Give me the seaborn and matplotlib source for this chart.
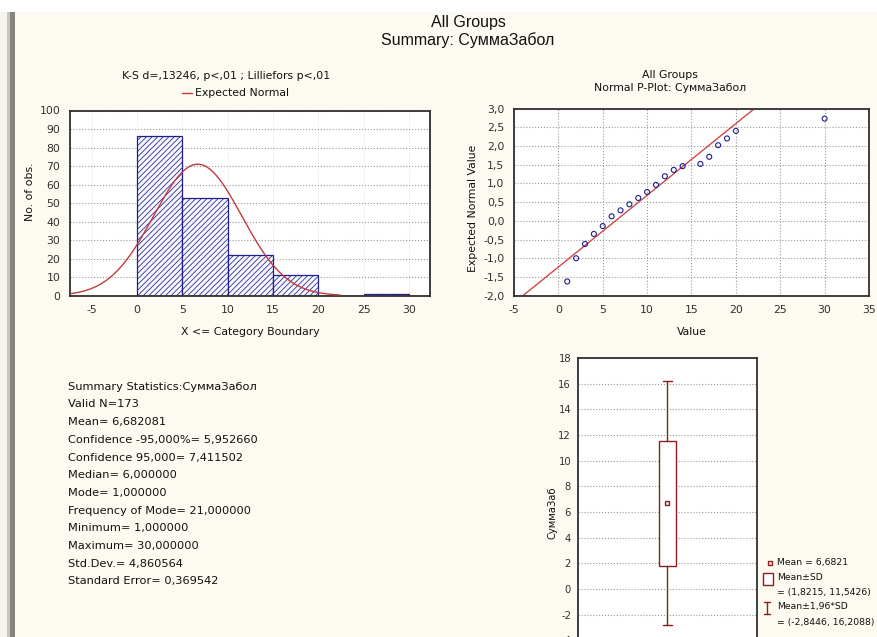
import numpy as np
import matplotlib
matplotlib.use("Agg")
import matplotlib.pyplot as plt
import seaborn as sns
from matplotlib.patches import Rectangle
from matplotlib.lines import Line2D

# ---------------- data ----------------
bin_edges = [0, 5, 10, 15, 20, 25, 30]
bin_counts = [86, 53, 22, 11, 0, 1]
n_valid = 173
mean_val = 6.682081
sd_val = 4.860564
hist_xticks = [-5, 0, 5, 10, 15, 20, 25, 30]
hist_yticks = [0, 10, 20, 30, 40, 50, 60, 70, 80, 90, 100]

pp_values = [1, 2, 3, 4, 5, 6, 7, 8, 9, 10, 11, 12, 13, 14, 16, 17, 18, 19, 20, 30]
pp_expected = [-1.62, -1.00, -0.62, -0.35, -0.14, 0.12, 0.28, 0.44, 0.61, 0.77,
               0.96, 1.19, 1.36, 1.46, 1.52, 1.71, 2.02, 2.20, 2.40, 2.73]
pp_line_x = [-4.0, 22.1]
pp_line_y = [-2.0, 3.0]
pp_xticks = [-5, 0, 5, 10, 15, 20, 25, 30, 35]
pp_yticks = [-2.0, -1.5, -1.0, -0.5, 0.0, 0.5, 1.0, 1.5, 2.0, 2.5, 3.0]
pp_yticklabels = ["-2,0", "-1,5", "-1,0", "-0,5", "0,0", "0,5", "1,0", "1,5", "2,0", "2,5", "3,0"]

box_mean = 6.6821
box_sd_low, box_sd_high = 1.8215, 11.5426
box_ci_low, box_ci_high = -2.8446, 16.2088
box_yticks = [-4, -2, 0, 2, 4, 6, 8, 10, 12, 14, 16, 18]

stats_lines = [
    "Summary Statistics:СуммаЗабол",
    "Valid N=173",
    "Mean= 6,682081",
    "Confidence -95,000%= 5,952660",
    "Confidence 95,000= 7,411502",
    "Median= 6,000000",
    "Mode= 1,000000",
    "Frequency of Mode= 21,000000",
    "Minimum= 1,000000",
    "Maximum= 30,000000",
    "Std.Dev.= 4,860564",
    "Standard Error= 0,369542",
]

# ---------------- style ----------------
sns.set_style("white")
plt.rcParams["font.family"] = ["DejaVu Sans"]
plt.rcParams["hatch.linewidth"] = 0.55
plt.rcParams["axes.edgecolor"] = "#303030"
plt.rcParams["axes.linewidth"] = 1.3
plt.rcParams["xtick.color"] = "#303030"
plt.rcParams["ytick.color"] = "#303030"

W, H = 878, 637
fig = plt.figure(figsize=(W / 100, H / 100), dpi=100, facecolor="white")

def px(l, t, r, b):
    return [l / W, 1 - b / H, (r - l) / W, (b - t) / H]

def ftext(x, y, s, **kw):
    kw.setdefault("va", "center")
    kw.setdefault("ha", "left")
    kw.setdefault("fontsize", 7.8)
    kw.setdefault("color", "#111111")
    return fig.text(x / W, 1 - y / H, s, **kw)

BG = "#FCFAF1"
fig.patches.append(Rectangle((0, 0), 1, 1 - 12 / H, transform=fig.transFigure,
                             fc="#F6F4EC", ec="none", zorder=-20))
fig.patches.append(Rectangle((15 / W, 0), 1 - 15 / W, 1 - 12 / H, transform=fig.transFigure,
                             fc=BG, ec="none", zorder=-19))
fig.patches.append(Rectangle((7 / W, 0), 3 / W, 1 - 12 / H, transform=fig.transFigure,
                             fc="#C8C8BC", ec="none", zorder=-18))
fig.patches.append(Rectangle((10 / W, 0), 5 / W, 1 - 12 / H, transform=fig.transFigure,
                             fc="#85857C", ec="none", zorder=-18))

# main title
TITLE_FAM = ["Liberation Sans Narrow", "Liberation Sans", "DejaVu Sans"]
ftext(468, 23, "All Groups", ha="center", fontsize=11.5, family=TITLE_FAM)
ftext(468, 40, "Summary: СуммаЗабол", ha="center", fontsize=11.5, family=TITLE_FAM)

grid_kw = dict(linestyle=":", color="#9A9A9A", linewidth=0.8)

# ---------------- histogram ----------------
ax1 = fig.add_axes(px(70, 110.5, 430, 295.7))
centers = [(a + b) / 2 for a, b in zip(bin_edges[:-1], bin_edges[1:])]
sns.histplot(x=centers, weights=bin_counts, bins=bin_edges, ax=ax1,
             facecolor="#F6F6FB", edgecolor="#1E1E8E", hatch="//////",
             linewidth=0.9, alpha=1, zorder=2)
bw = bin_edges[1] - bin_edges[0]
xs = np.linspace(-7.4, 22.4, 300)
ys = n_valid * bw * np.exp(-0.5 * ((xs - mean_val) / sd_val) ** 2) / (sd_val * np.sqrt(2 * np.pi))
sns.lineplot(x=xs, y=ys, ax=ax1, color="#C23A3A", linewidth=1.0, zorder=5)
ax1.set_xlim(-7.4, 32.3)
ax1.set_ylim(0, 100)
ax1.set_xticks(hist_xticks)
ax1.set_yticks(hist_yticks)
ax1.set_xticklabels([str(v) for v in hist_xticks])
ax1.set_yticklabels([str(v) for v in hist_yticks])
ax1.set_xlabel("")
ax1.set_ylabel("")
ax1.grid(axis="y", zorder=0, **grid_kw)
ax1.grid(axis="x", linestyle=":", color="#DADADA", linewidth=0.6)
ax1.set_axisbelow(True)
ax1.tick_params(labelsize=7.8, length=2, pad=5)
ax1.set_facecolor("white")

ftext(226.5, 75.7, "K-S d=,13246, p<,01 ; Lilliefors p<,01", ha="center")
fig.add_artist(Line2D([181.7 / W, 191.7 / W], [1 - 93.3 / H, 1 - 93.3 / H],
                      transform=fig.transFigure, color="#C23A3A", linewidth=1.0))
ftext(195, 93.3, "Expected Normal")
ftext(30, 192, "No. of obs.", rotation=90, ha="center")
ftext(250, 332, "X <= Category Boundary", ha="center")

# ---------------- normal P-plot ----------------
ax2 = fig.add_axes(px(514, 108.5, 869, 295.7))
sns.lineplot(x=pp_line_x, y=pp_line_y, ax=ax2, color="#D04848", linewidth=1.0)
sns.scatterplot(x=pp_values, y=pp_expected, ax=ax2, color="#20208C", s=13,
                marker="o", linewidth=0.8, zorder=6)
coll = ax2.collections[-1]
coll.set_facecolor("none")
coll.set_edgecolor("#20208C")
ax2.set_xlim(-5, 35)
ax2.set_ylim(-2, 3)
ax2.set_xticks(pp_xticks)
ax2.set_xticklabels([str(v) for v in pp_xticks])
ax2.set_yticks(pp_yticks)
ax2.set_yticklabels(pp_yticklabels)
ax2.set_xlabel("")
ax2.set_ylabel("")
ax2.grid(True, **grid_kw)
ax2.set_axisbelow(True)
ax2.tick_params(labelsize=7.8, length=2, pad=5)
ax2.set_facecolor("white")

ftext(670, 75, "All Groups", ha="center")
ftext(670, 88.3, "Normal P-Plot: СуммаЗабол", ha="center")
ftext(473, 208, "Expected Normal Value", rotation=90, ha="center")
ftext(692, 332, "Value", ha="center")

# ---------------- box plot ----------------
BOX = "#8E1E1E"
ax3 = fig.add_axes(px(578, 358, 757, 358 + 24 * 12.83))
stats = [dict(med=box_mean, mean=box_mean, q1=box_sd_low, q3=box_sd_high,
              whislo=box_ci_low, whishi=box_ci_high, fliers=[])]
ax3.bxp(stats, positions=[0], widths=0.1, capwidths=0.055, showmeans=True,
        showfliers=False, patch_artist=True,
        boxprops=dict(facecolor="white", edgecolor=BOX, linewidth=1.0),
        whiskerprops=dict(color=BOX, linewidth=1.0),
        capprops=dict(color=BOX, linewidth=1.0),
        medianprops=dict(linewidth=0),
        meanprops=dict(marker="s", markersize=3.5, markerfacecolor="#F4E8E8",
                       markeredgecolor=BOX, markeredgewidth=1.0))
ax3.set_xlim(-0.5, 0.5)
ax3.set_ylim(-6, 18)
ax3.set_yticks(box_yticks)
ax3.set_yticklabels([str(v) for v in box_yticks])
ax3.set_xticks([])
ax3.grid(axis="y", **grid_kw)
ax3.set_axisbelow(True)
ax3.tick_params(labelsize=7.2, length=2, pad=3)
ax3.set_facecolor("white")
ftext(553, 513, "СуммаЗаб", rotation=90, ha="center", fontsize=7.2)

# legend of box plot
LEG_FS = 6.7
fig.add_artist(Line2D([770 / W], [1 - 563 / H], transform=fig.transFigure, marker="s",
                      markersize=3, markerfacecolor="#F4E8E8", markeredgecolor=BOX,
                      markeredgewidth=1.0, linestyle="none"))
ftext(777, 563, "Mean = 6,6821", fontsize=LEG_FS)
fig.patches.append(Rectangle((763 / W, 1 - 585 / H), 10 / W, 12 / H, transform=fig.transFigure,
                             fc="white", ec=BOX, linewidth=1.0))
ftext(777, 577, "Mean±SD", fontsize=LEG_FS)
ftext(777, 592, "= (1,8215, 11,5426)", fontsize=LEG_FS)
fig.add_artist(Line2D([767 / W, 767 / W], [1 - 602 / H, 1 - 614 / H], transform=fig.transFigure,
                      color=BOX, linewidth=1.0))
fig.add_artist(Line2D([764 / W, 770 / W], [1 - 602 / H, 1 - 602 / H], transform=fig.transFigure,
                      color=BOX, linewidth=1.0))
fig.add_artist(Line2D([764 / W, 770 / W], [1 - 614 / H, 1 - 614 / H], transform=fig.transFigure,
                      color=BOX, linewidth=1.0))
ftext(777, 607, "Mean±1,96*SD", fontsize=LEG_FS)
ftext(777, 622, "= (-2,8446, 16,2088)", fontsize=LEG_FS)

# ---------------- summary statistics text ----------------
for i, line in enumerate(stats_lines):
    ftext(68, 386.7 + i * 17.7, line, fontsize=8.2)

fig.savefig("out.png", dpi=100, facecolor=fig.get_facecolor())
